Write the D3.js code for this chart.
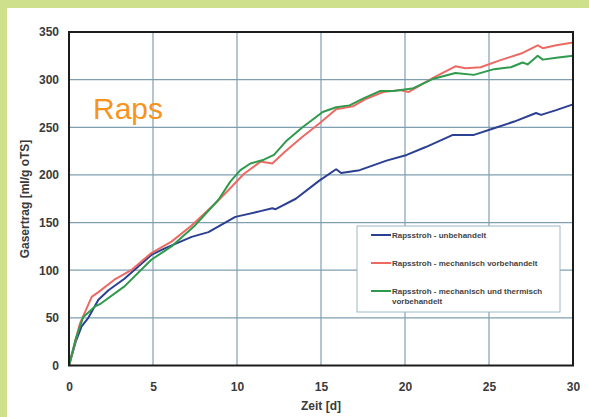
<!DOCTYPE html>
<html>
<head>
<meta charset="utf-8">
<script src="https://cdn.jsdelivr.net/npm/d3@7"></script>
<style>
  html, body { margin: 0; padding: 0; background: #cfe08d; }
  svg { display: block; }
</style>
</head>
<body>
<svg id="chart" width="589" height="417"></svg>
<script>
// Cumulative biogas yield of rapeseed straw over 30 days
const xTicks = [0, 5, 10, 15, 20, 25, 30];
const yTicks = [0, 50, 100, 150, 200, 250, 300, 350];

const seriesNames = [
  "Rapsstroh - unbehandelt",
  "Rapsstroh - mechanisch vorbehandelt",
  "Rapsstroh - mechanisch und thermisch vorbehandelt"
];
const seriesColors = ["#2b3f93", "#ec6a63", "#2e9a4c"];

const daysUnbehandelt = [0, 0.4, 0.75, 1.15, 1.75, 2.35, 3.3, 4.9, 5.7, 7.3, 8.3, 9.9, 11.4, 12.1, 12.3, 13.5, 14.9, 15.9, 16.2, 17.3, 18.9, 20.1, 21.2, 22.85, 24.1, 25.3, 26.5, 27.8, 28.1, 29, 30];
const valsUnbehandelt = [0, 25, 41, 50, 69, 79, 91, 116, 123, 135, 140, 156, 162, 165, 164, 175, 194, 206, 202, 205, 215, 221, 229, 242, 242, 249, 256, 265, 263, 268, 274];

const daysMechanisch = [0, 0.65, 1.35, 1.75, 2.7, 3.7, 4.9, 6.1, 7.3, 8.7, 9.6, 10.4, 11.4, 12.1, 12.9, 13.9, 14.9, 15.9, 16.9, 17.7, 18.7, 19.7, 20.2, 21.7, 23, 23.6, 24.5, 25.6, 27, 27.9, 28.2, 29, 30];
const valsMechanisch = [0, 44, 72, 77, 90, 100, 118, 130, 147, 170, 186, 201, 214, 212, 225, 240, 254, 269, 272, 280, 287, 289, 287, 302, 314, 312, 313, 320, 328, 336, 333, 336, 339];

const daysThermisch = [0, 0.4, 0.85, 1.55, 1.9, 3.3, 4.9, 6.1, 7.5, 8.9, 9.6, 10.2, 10.8, 11.6, 12.2, 12.9, 13.9, 15.1, 15.9, 16.7, 17.5, 18.5, 19.3, 20.1, 20.5, 21.7, 23, 24.1, 25.3, 26.3, 27, 27.3, 27.9, 28.2, 29, 30];
const valsThermisch = [0, 28, 51, 62, 65, 83, 111, 125, 147, 174, 193, 205, 212, 216, 221, 235, 250, 266, 271, 273, 280, 288, 288, 290, 291, 301, 307, 305, 311, 313, 318, 316, 325, 321, 323, 325];

const series = [
  { name: seriesNames[0], color: seriesColors[0], points: daysUnbehandelt.map((d, i) => [d, valsUnbehandelt[i]]) },
  { name: seriesNames[1], color: seriesColors[1], points: daysMechanisch.map((d, i) => [d, valsMechanisch[i]]) },
  { name: seriesNames[2], color: seriesColors[2], points: daysThermisch.map((d, i) => [d, valsThermisch[i]]) }
];

const svg = d3.select("#chart");
const W = 589, H = 417;
const plot = { left: 69, top: 32, right: 573, bottom: 365.5 };

// white panel inside the green frame
svg.append("rect").attr("x", 7).attr("y", 8).attr("width", W - 7).attr("height", H - 8).attr("fill", "#ffffff");

const x = d3.scaleLinear().domain([0, 30]).range([plot.left, plot.right]);
const y = d3.scaleLinear().domain([0, 350]).range([plot.bottom, plot.top]);

const font = "'Liberation Sans', Arial, sans-serif";

// grid
const grid = svg.append("g");
grid.selectAll("line.v").data(xTicks).join("line")
  .attr("x1", d => x(d)).attr("x2", d => x(d))
  .attr("y1", plot.top).attr("y2", plot.bottom)
  .attr("stroke", "#7f9fb1").attr("stroke-width", 1.2);
grid.selectAll("line.h").data(yTicks).join("line")
  .attr("x1", plot.left).attr("x2", plot.right)
  .attr("y1", d => y(d)).attr("y2", d => y(d))
  .attr("stroke", "#7f9fb1").attr("stroke-width", 1.2);

// axes (labels only, domain drawn by frame)
const xAxis = d3.axisBottom(x).tickValues(xTicks).tickSize(0).tickPadding(0).tickFormat(d3.format("d"));
const gx = svg.append("g").attr("transform", `translate(0,${plot.bottom + 25})`).call(xAxis);
gx.select(".domain").remove();
gx.selectAll("text").attr("dy", 0).attr("font-family", font).attr("font-size", 12)
  .attr("font-weight", "bold").attr("fill", "#3a3a3a");

const yAxis = d3.axisLeft(y).tickValues(yTicks).tickSize(0).tickPadding(0).tickFormat(d3.format("d"));
const gy = svg.append("g").attr("transform", `translate(${plot.left - 10},0)`).call(yAxis);
gy.select(".domain").remove();
gy.selectAll("text").attr("font-family", font).attr("font-size", 12)
  .attr("font-weight", "bold").attr("fill", "#3a3a3a");

// series lines
const line = d3.line().x(d => x(d[0])).y(d => y(d[1]));
svg.append("g").selectAll("path").data(series).join("path")
  .attr("d", d => line(d.points))
  .attr("fill", "none")
  .attr("stroke", d => d.color)
  .attr("stroke-width", 2)
  .attr("stroke-linejoin", "round");

// plot frame
svg.append("rect")
  .attr("x", plot.left).attr("y", plot.top)
  .attr("width", plot.right - plot.left).attr("height", plot.bottom - plot.top)
  .attr("fill", "none").attr("stroke", "#1c1c1c").attr("stroke-width", 2);

// axis titles
svg.append("text")
  .attr("x", (plot.left + plot.right) / 2).attr("y", 410)
  .attr("text-anchor", "middle")
  .attr("font-family", font).attr("font-size", 12).attr("font-weight", "bold").attr("fill", "#3a3a3a")
  .text("Zeit [d]");

svg.append("text")
  .attr("transform", "translate(29,199) rotate(-90)")
  .attr("text-anchor", "middle")
  .attr("font-family", font).attr("font-size", 12).attr("font-weight", "bold").attr("fill", "#3a3a3a")
  .text("Gasertrag [ml/g oTS]");

// crop label
svg.append("text")
  .attr("x", 93).attr("y", 119)
  .attr("font-family", font).attr("font-size", 30).attr("fill", "#f7941d")
  .text("Raps");

// legend
const lg = svg.append("g");
lg.append("rect").attr("x", 357).attr("y", 226).attr("width", 203).attr("height", 86)
  .attr("fill", "#ffffff").attr("stroke", "#9db8c6").attr("stroke-width", 1);
const legendRows = [235, 263, 291];
series.forEach((s, i) => {
  const yy = legendRows[i];
  lg.append("line").attr("x1", 371).attr("x2", 391).attr("y1", yy).attr("y2", yy)
    .attr("stroke", s.color).attr("stroke-width", 2);
  const t = lg.append("text").attr("x", 392).attr("y", yy + 2.8)
    .attr("font-family", font).attr("font-size", 8).attr("font-weight", "bold").attr("fill", "#444");
  if (i === 2) {
    t.append("tspan").attr("x", 392).text("Rapsstroh - mechanisch und thermisch");
    t.append("tspan").attr("x", 392).attr("dy", 10.5).text("vorbehandelt");
  } else {
    t.text(s.name);
  }
});
</script>
</body>
</html>
